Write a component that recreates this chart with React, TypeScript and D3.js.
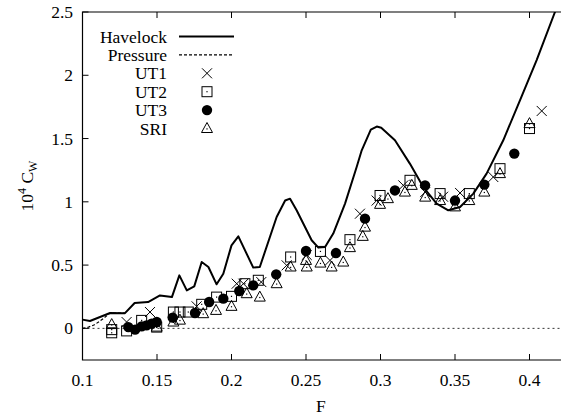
import React from "react";
import * as d3 from "d3";

const W = 561;
const H = 415;

// Havelock wave resistance curve (F, 10^4 Cw)
const havelockF = [0.1, 0.105, 0.1185, 0.1285, 0.135, 0.144, 0.152, 0.16, 0.165, 0.17, 0.175, 0.18, 0.1845, 0.19, 0.1945, 0.2, 0.2046, 0.2146, 0.219, 0.2303, 0.236, 0.2393, 0.2437, 0.2538, 0.2583, 0.2628, 0.2683, 0.2762, 0.284, 0.2874, 0.2935, 0.2975, 0.3005, 0.3097, 0.3198, 0.3287, 0.3377, 0.3455, 0.3534, 0.3623, 0.3712, 0.3824, 0.3936, 0.4048, 0.4171, 0.42];
const havelockCw = [0.069, 0.058, 0.121, 0.12, 0.2, 0.208, 0.26, 0.247, 0.419, 0.3, 0.332, 0.524, 0.485, 0.348, 0.432, 0.656, 0.727, 0.48, 0.485, 0.88, 1.01, 1.025, 0.933, 0.696, 0.638, 0.643, 0.749, 0.986, 1.275, 1.407, 1.57, 1.595, 1.585, 1.486, 1.3, 1.117, 0.986, 0.933, 0.959, 1.065, 1.223, 1.486, 1.802, 2.12, 2.5, 2.58];

// Pressure integration curve (joins Havelock above F ~ 0.12)
const pressureF = [0.1, 0.104, 0.108, 0.114, 0.1185, 0.1285];
const pressureCw = [0.0, 0.01, 0.028, 0.077, 0.121, 0.12];

// Experimental series
const ut1F = [0.1296, 0.1453, 0.1766, 0.2035, 0.208, 0.22, 0.237, 0.2505, 0.2661, 0.2862, 0.2974, 0.3153, 0.33, 0.342, 0.3534, 0.3757, 0.4082];
const ut1Cw = [0.05, 0.129, 0.174, 0.353, 0.353, 0.366, 0.498, 0.58, 0.537, 0.906, 1.01, 1.13, 1.077, 1.04, 1.07, 1.196, 1.718];

const ut2F = [0.1196, 0.1196, 0.1296, 0.1397, 0.1498, 0.161, 0.1654, 0.171, 0.18, 0.19, 0.2, 0.209, 0.218, 0.2397, 0.2597, 0.2795, 0.2997, 0.3198, 0.34, 0.3596, 0.3802, 0.4];
const ut2Cw = [-0.01, -0.035, -0.02, 0.063, 0.01, 0.129, 0.129, 0.129, 0.19, 0.247, 0.253, 0.353, 0.38, 0.564, 0.608, 0.701, 1.05, 1.17, 1.065, 1.065, 1.262, 1.579];

const ut3F = [0.1308, 0.1353, 0.1397, 0.143, 0.1464, 0.1498, 0.1605, 0.1755, 0.185, 0.1945, 0.2052, 0.2146, 0.23, 0.25, 0.2701, 0.2896, 0.3097, 0.3299, 0.35, 0.3697, 0.3898];
const ut3Cw = [0.01, -0.01, 0.016, 0.024, 0.037, 0.05, 0.085, 0.121, 0.208, 0.235, 0.295, 0.34, 0.427, 0.611, 0.595, 0.867, 1.09, 1.13, 1.01, 1.136, 1.381];

const sriF = [0.1196, 0.1498, 0.161, 0.1654, 0.181, 0.1896, 0.2, 0.2102, 0.219, 0.2303, 0.2397, 0.25, 0.2505, 0.2597, 0.2672, 0.275, 0.2795, 0.2881, 0.2896, 0.2997, 0.305, 0.3164, 0.321, 0.33, 0.34, 0.35, 0.3596, 0.3697, 0.3802, 0.4];
const sriCw = [0.03, 0.01, 0.05, 0.065, 0.116, 0.142, 0.174, 0.274, 0.247, 0.353, 0.485, 0.537, 0.485, 0.516, 0.485, 0.524, 0.638, 0.727, 0.8, 0.98, 1.025, 1.077, 1.13, 1.037, 1.01, 0.96, 1.01, 1.077, 1.223, 1.618];

const xTicks = [0.1, 0.15, 0.2, 0.25, 0.3, 0.35, 0.4];
const yTicks = [0, 0.5, 1, 1.5, 2, 2.5];
const legendLabels = ["Havelock", "Pressure", "UT1", "UT2", "UT3", "SRI"];

const FONT = `"Liberation Serif", "Times New Roman", serif`;
const TS: React.CSSProperties = { fontFamily: FONT, fontSize: "17.5px" };

export default function App() {
  const left = 82.5;
  const top = 12;
  const bottom = 360;
  const x = d3.scaleLinear().domain([0.1, 0.4]).range([left, 529.5]);
  const y = d3.scaleLinear().domain([-0.25, 2.5]).range([bottom, top]);
  const right = W + 2;

  const line = d3
    .line<[number, number]>()
    .x((d) => x(d[0]))
    .y((d) => y(d[1]))
    .curve(d3.curveLinear);

  const havelock: [number, number][] = havelockF.map((f, i) => [f, havelockCw[i]]);
  const pressure: [number, number][] = pressureF.map((f, i) => [f, pressureCw[i]]);

  const s = 5;
  const cross = (cx: number, cy: number, k: string) => (
    <path key={k} d={`M${cx - s},${cy - s}L${cx + s},${cy + s}M${cx - s},${cy + s}L${cx + s},${cy - s}`} stroke="#000" strokeWidth={1} fill="none" />
  );
  const square = (cx: number, cy: number, k: string) => (
    <g key={k}>
      <rect x={cx - s} y={cy - s} width={2 * s} height={2 * s} fill="none" stroke="#000" strokeWidth={1} />
      <rect x={cx - 0.6} y={cy - 0.6} width={1.2} height={1.2} fill="#000" />
    </g>
  );
  const circle = (cx: number, cy: number, k: string) => (
    <circle key={k} cx={cx} cy={cy} r={5.2} fill="#000" />
  );
  const tri = (cx: number, cy: number, k: string) => (
    <g key={k}>
      <path d={`M${cx},${cy - 6}L${cx + 5.5},${cy + 4}L${cx - 5.5},${cy + 4}Z`} fill="none" stroke="#000" strokeWidth={1} />
      <rect x={cx - 0.6} y={cy - 0.2} width={1.2} height={1.2} fill="#000" />
    </g>
  );

  const legendY = (i: number) => 36.5 + i * 18.4;
  const legendTextX = 167;
  const legendSymX = 207;

  return (
    <svg width={W} height={H} style={{ position: "absolute", left: 0, top: 0, background: "#fff", fontFamily: FONT }}>
      <defs>
        <clipPath id="plot">
          <rect x={left} y={top} width={right - left} height={bottom - top} />
        </clipPath>
      </defs>
      <rect x={0} y={0} width={W} height={H} fill="#fff" />

      {/* zero line */}
      <line x1={left} x2={right} y1={y(0)} y2={y(0)} stroke="#000" strokeWidth={0.8} strokeDasharray="2,3" />

      {/* curves */}
      <g clipPath="url(#plot)">
        <path d={line(pressure) || ""} fill="none" stroke="#000" strokeWidth={1.2} strokeDasharray="3,2" />
        <path d={line(havelock) || ""} fill="none" stroke="#000" strokeWidth={2} strokeLinejoin="round" />
      </g>

      {/* markers */}
      <g clipPath="url(#plot)">
        {ut2F.map((f, i) => square(x(f), y(ut2Cw[i]), "q" + i))}
        {sriF.map((f, i) => tri(x(f), y(sriCw[i]), "t" + i))}
        {ut1F.map((f, i) => cross(x(f), y(ut1Cw[i]), "x" + i))}
        {ut3F.map((f, i) => circle(x(f), y(ut3Cw[i]), "c" + i))}
      </g>

      {/* border */}
      <path d={`M${right},${top}H${left}V${bottom}H${right}`} fill="none" stroke="#000" strokeWidth={1.2} />

      {/* x ticks */}
      {xTicks.map((t) => (
        <g key={"xt" + t}>
          <line x1={x(t)} x2={x(t)} y1={bottom} y2={bottom - 6} stroke="#000" strokeWidth={1} />
          <line x1={x(t)} x2={x(t)} y1={top} y2={top + 6} stroke="#000" strokeWidth={1} />
          <text x={x(t)} y={386} textAnchor="middle" style={TS} fill="#000">
            {String(t)}
          </text>
        </g>
      ))}
      {/* y ticks */}
      {yTicks.map((t) => (
        <g key={"yt" + t}>
          <line x1={left} x2={left + 6} y1={y(t)} y2={y(t)} stroke="#000" strokeWidth={1} />
          <text x={73} y={y(t) + 6} textAnchor="end" style={TS} fill="#000">
            {String(t)}
          </text>
        </g>
      ))}

      {/* axis titles */}
      <text x={(left + 559) / 2} y={412} textAnchor="middle" style={TS} fill="#000">F</text>
      <text transform={`translate(33,${(top + bottom) / 2}) rotate(-90)`} textAnchor="middle" style={TS} fill="#000">
        <tspan>10</tspan>
        <tspan style={{ fontSize: "12px" }} dy={-7}>4</tspan>
        <tspan dy={7}> C</tspan>
        <tspan style={{ fontSize: "12px" }} dy={4}>W</tspan>
      </text>

      {/* legend */}
      {legendLabels.map((lab, i) => (
        <text key={lab} x={legendTextX} y={legendY(i) + 6} textAnchor="end" style={TS} fill="#000">
          {lab}
        </text>
      ))}
      <line x1={179} x2={234} y1={legendY(0)} y2={legendY(0)} stroke="#000" strokeWidth={2} />
      <line x1={179} x2={234} y1={legendY(1)} y2={legendY(1)} stroke="#000" strokeWidth={1.2} strokeDasharray="3,2" />
      {cross(legendSymX, legendY(2), "lx")}
      {square(legendSymX, legendY(3), "lq")}
      {circle(legendSymX, legendY(4), "lc")}
      {tri(legendSymX, legendY(5), "lt")}
    </svg>
  );
}
